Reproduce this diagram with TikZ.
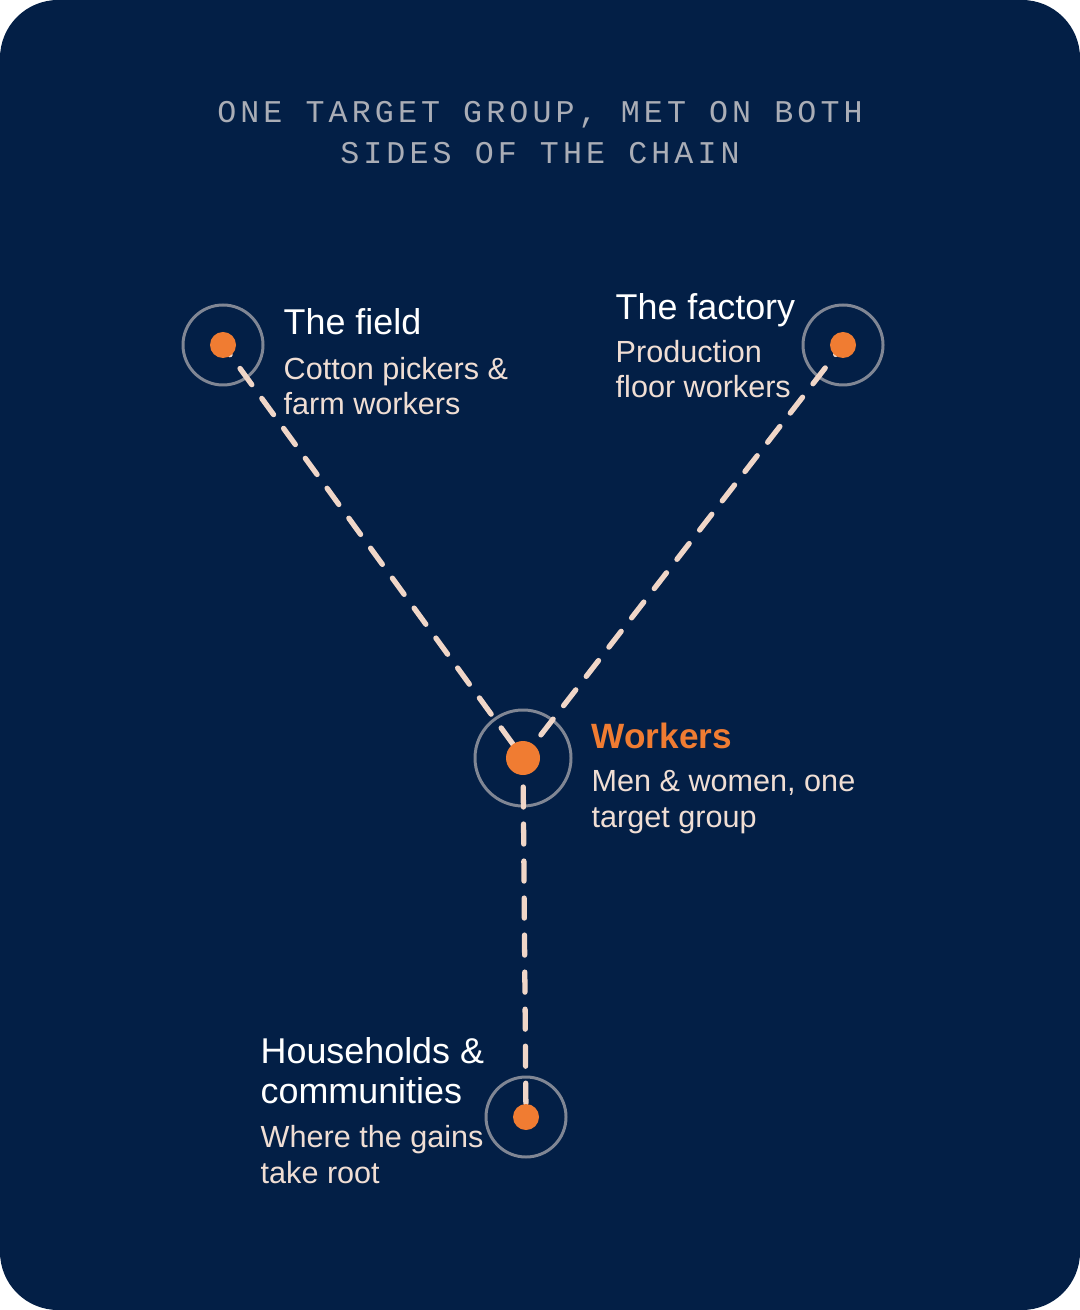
\documentclass[tikz,border=0pt]{standalone}
\usepackage{fontspec}
\setmainfont{Liberation Sans}
\newfontfamily\titlefont[LetterSpace=13]{Liberation Mono}
\definecolor{navy}{RGB}{3,31,70}
\definecolor{dotorange}{RGB}{240,124,50}
\definecolor{ringgray}{RGB}{128,134,148}
\definecolor{dashcream}{RGB}{240,214,200}
\definecolor{subcream}{RGB}{240,222,212}
\definecolor{titlegray}{RGB}{170,173,182}
\tikzset{
  head/.style={anchor=base west,inner sep=0pt,text=white,font=\fontsize{10.2pt}{11.2pt}\selectfont,align=left},
  sub/.style={anchor=base west,inner sep=0pt,text=subcream,font=\fontsize{8.7pt}{10.2pt}\selectfont,align=left},
  ring/.style={draw=ringgray,line width=0.85pt},
  link/.style={dashcream,line width=1.5pt,line cap=round,dash pattern=on 0.2cm off 0.17cm}
}
\begin{document}
\begin{tikzpicture}[x=0.01cm,y=-0.01cm]
%frame
\useasboundingbox (0,0) rectangle (1080,1310);
\fill[navy,rounded corners=0.58cm] (0,0) rectangle (1080,1310);
%title (base = last line)
\node[text=titlegray,font=\titlefont\fontsize{9pt}{11.7pt}\selectfont,align=center,anchor=base] (title) at (540,164)
  {ONE TARGET GROUP, MET ON BOTH\\SIDES OF THE CHAIN};
%points
\coordinate (field) at (223,345);
\coordinate (factory) at (843,345);
\coordinate (workers) at (523,758);
\coordinate (homes) at (526,1117);
%rings
\draw[ring](field) circle (40);
\draw[ring](factory) circle (40);
\draw[ring](workers) circle (48);
\draw[ring](homes) circle (40);
%links
\draw[link,dash phase=0.08cm](field)--(workers);
\draw[link,dash phase=0.08cm](factory)--(workers);
\draw[link,dash phase=0.08cm](workers)--(homes);
%dots
\fill[dotorange](field) circle (13);
\fill[dotorange](factory) circle (13);
\fill[dotorange](workers) circle (17);
\fill[dotorange](homes) circle (13);
%labels
\node[head] (fieldhead) at (283,335) {The field};
\node[sub] (fieldsub) at (283,415) {Cotton pickers \&\\farm workers};
\node[head] (factoryhead) at (615,320) {The factory};
\node[sub] (factorysub) at (615,398) {Production\\floor workers};
\node[head,text=dotorange,font=\bfseries\fontsize{10pt}{11.2pt}\selectfont] (workershead) at (591,748) {Workers};
\node[sub] (workerssub) at (591,827) {Men \& women, one\\target group};
\node[head] (homeshead) at (260,1103) {Households \&\\communities};
\node[sub] (homessub) at (260,1183) {Where the gains\\take root};
\end{tikzpicture}
\end{document}
